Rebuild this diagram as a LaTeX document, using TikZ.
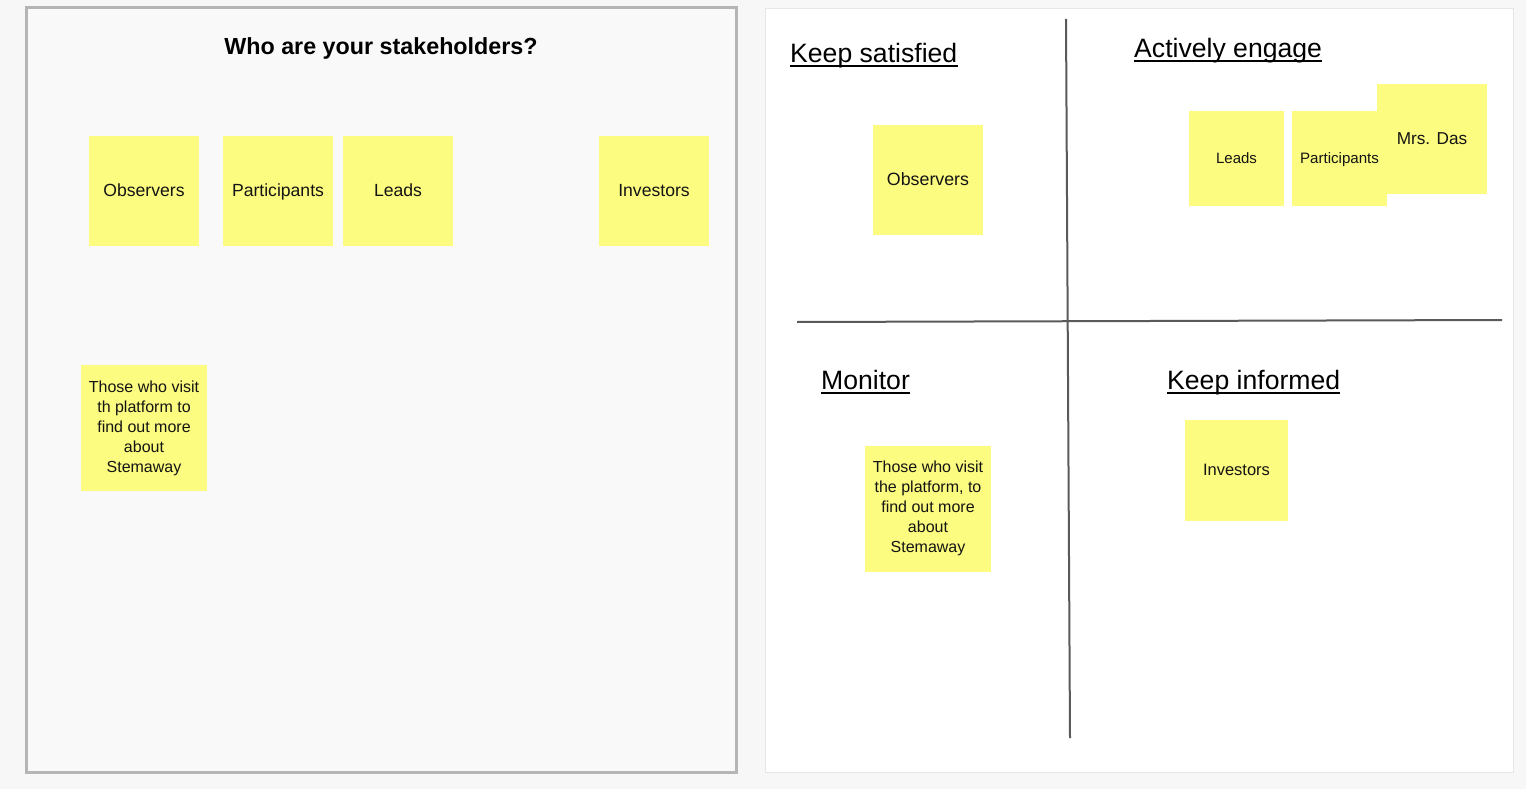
\documentclass[tikz,border=0pt]{standalone}
\usepackage{fontspec}
\setmainfont{Liberation Sans}
\definecolor{bg}{RGB}{247,247,247}
\definecolor{panelL}{RGB}{249,249,249}
\definecolor{borderL}{RGB}{181,181,181}
\definecolor{borderR}{RGB}{230,230,230}
\definecolor{sticky}{RGB}{252,252,128}
\definecolor{axis}{RGB}{90,90,90}
\definecolor{ink}{RGB}{20,20,20}
\tikzset{
  stickynote/.style={rectangle, fill=sticky, inner sep=0pt, align=center, text=ink},
  big/.style={stickynote, minimum width=110pt, minimum height=110pt},
  oneline/.style={text height=1.06em, text depth=0pt},
  heading/.style={inner sep=0pt, anchor=base west, text=black, font=\fontsize{26.6}{30}\selectfont},
  uline/.style={line width=2pt, black},
  axisline/.style={line width=2pt, axis},
}
\begin{document}
\begin{tikzpicture}[x=1pt,y=-1pt]
\useasboundingbox (0,0) rectangle (1526,789);
\fill[bg] (0,0) rectangle (1526,789);
% left panel
\draw[fill=panelL, draw=borderL, line width=3pt] (26,8) rectangle (736,772);
\node[inner sep=0pt, anchor=base, font=\bfseries\fontsize{23.3}{28}\selectfont] (title) at (381,55) {Who are your stakeholders?};
\node[big, oneline, font=\fontsize{17.6}{20}\selectfont] (obsL) at (144,191) {Observers};
\node[big, oneline, font=\fontsize{17.6}{20}\selectfont] (parL) at (278,191) {Participants};
\node[big, oneline, font=\fontsize{17.6}{20}\selectfont] (leadL) at (398,191) {Leads};
\node[big, oneline, font=\fontsize{17.6}{20}\selectfont] (invL) at (654,191) {Investors};
\node[stickynote, minimum width=126pt, minimum height=126pt, font=\fontsize{16}{20}\selectfont] (visL) at (144,428) {Those who visit\\th platform to\\find out more\\about\\Stemaway};
% right panel
\draw[fill=white, draw=borderR, line width=1pt] (765,9) rectangle (1513,772);
\coordinate (vt) at (1066,19);
\coordinate (vb) at (1070,738);
\coordinate (hl) at (797,322);
\coordinate (hr) at (1502,320);
\draw[axisline] (vt) -- (vb);
\draw[axisline] (hl) -- (hr);
\node[heading] (ks) at (790,62.5) {Keep satisfied};
\node[heading] (ae) at (1134,57.5) {Actively engage};
\node[heading] (mo) at (821,389) {Monitor};
\node[heading] (ki) at (1167,389) {Keep informed};
\foreach \n in {ks,ae,mo,ki}{
  \draw[uline] ([yshift=-4pt]\n.base west) -- ([yshift=-4pt]\n.base east);
}
\node[big, oneline, font=\fontsize{17.8}{20}\selectfont] (obsR) at (928,180) {Observers};
\node[stickynote, oneline, minimum width=95pt, minimum height=95pt, font=\fontsize{15}{18}\selectfont] (leadR) at (1236.5,158.5) {Leads};
\node[stickynote, minimum width=95pt, minimum height=95pt] (parR) at (1339.5,158.5) {};
\node[big, oneline, font=\fontsize{17.2}{20}\selectfont] (dasR) at (1432,139) {Mrs. Das};
\node[inner sep=0pt, oneline, text=ink, font=\fontsize{15.1}{18}\selectfont] (parRt) at (1339.5,158.5) {Participants};
\node[stickynote, minimum width=126pt, minimum height=126pt, font=\fontsize{16}{20}\selectfont] (visR) at (928,508.5) {Those who visit\\the platform, to\\find out more\\about\\Stemaway};
\node[stickynote, oneline, minimum width=103pt, minimum height=101pt, font=\fontsize{16.5}{20}\selectfont] (invR) at (1236.5,470.5) {Investors};
\end{tikzpicture}
\end{document}
